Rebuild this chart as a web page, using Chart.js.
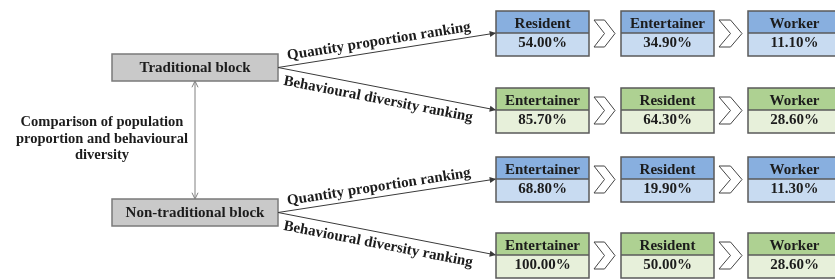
<!DOCTYPE html>
<html>
<head>
<meta charset="utf-8">
<script src="https://cdn.jsdelivr.net/npm/chart.js@4"></script>
<style>
  html, body { margin: 0; padding: 0; background: #fff; }
  #wrap { width: 835px; height: 280px; }
</style>
</head>
<body>
<div id="wrap"><canvas id="chart" width="835" height="280"></canvas></div>
<script>
// data
const blocks = ["Traditional block", "Non-traditional block"];
const rankingTypes = ["Quantity proportion ranking", "Behavioural diversity ranking"];
const comparisonLabel = ["Comparison of population", "proportion and behavioural", "diversity"];

const tradQuantityRoles = ["Resident", "Entertainer", "Worker"];
const tradQuantityValues = [54.0, 34.9, 11.1];
const tradDiversityRoles = ["Entertainer", "Resident", "Worker"];
const tradDiversityValues = [85.7, 64.3, 28.6];
const nonTradQuantityRoles = ["Entertainer", "Resident", "Worker"];
const nonTradQuantityValues = [68.8, 19.9, 11.3];
const nonTradDiversityRoles = ["Entertainer", "Resident", "Worker"];
const nonTradDiversityValues = [100.0, 50.0, 28.6];

// layout (units = px of the 835x280 sheet)
const blockCenterX = 195;
const blockCenterY = [67.5, 212.5];
const blockW = 166, blockH = 27;
const rankColX = [542.5, 667.5, 794.5];
const rankRowTop = [11, 88, 157, 233];
const boxW = 93, boxH = 45, headH = 22;

const FONT = '"Liberation Serif", "Times New Roman", serif';
const BLUE = { head: "#88afdf", body: "#c8dbf1" };
const GREEN = { head: "#aed192", body: "#e7f0da" };

const rows = [
  { block: 0, kind: 0, roles: tradQuantityRoles, values: tradQuantityValues },
  { block: 0, kind: 1, roles: tradDiversityRoles, values: tradDiversityValues },
  { block: 1, kind: 0, roles: nonTradQuantityRoles, values: nonTradQuantityValues },
  { block: 1, kind: 1, roles: nonTradDiversityRoles, values: nonTradDiversityValues },
];

const rankPoints = [];
rows.forEach((r, ri) => {
  r.roles.forEach((role, k) => {
    rankPoints.push({ x: rankColX[k], y: rankRowTop[ri] + boxH / 2, role, value: r.values[k], kind: r.kind, row: ri, rank: k });
  });
});
const blockPoints = blocks.map((b, i) => ({ x: blockCenterX, y: blockCenterY[i], name: b }));

function arrowHead(ctx, x1, y1, x2, y2, size, filled) {
  const a = Math.atan2(y2 - y1, x2 - x1);
  ctx.beginPath();
  ctx.moveTo(x2 - size * Math.cos(a - 0.45), y2 - size * Math.sin(a - 0.45));
  ctx.lineTo(x2, y2);
  ctx.lineTo(x2 - size * Math.cos(a + 0.45), y2 - size * Math.sin(a + 0.45));
  if (filled) { ctx.closePath(); ctx.fill(); } else ctx.stroke();
}

const diagramPlugin = {
  id: "diagram",
  afterDatasetsDraw(chart) {
    const ctx = chart.ctx;
    const sx = chart.scales.x, sy = chart.scales.y;
    const w = v => sx.getPixelForValue(v) - sx.getPixelForValue(0);
    const h = v => sy.getPixelForValue(v) - sy.getPixelForValue(0);
    const rankEls = chart.getDatasetMeta(0).data;
    const blockEls = chart.getDatasetMeta(1).data;
    ctx.save();

    // block boxes
    blockEls.forEach((el, i) => {
      const bw = w(blockW), bh = h(blockH);
      ctx.fillStyle = "#c9c9c9";
      ctx.fillRect(el.x - bw / 2, el.y - bh / 2, bw, bh);
      ctx.strokeStyle = "#7a7a7a";
      ctx.lineWidth = 1.5;
      ctx.strokeRect(el.x - bw / 2, el.y - bh / 2, bw, bh);
      ctx.fillStyle = "#1c1c1c";
      ctx.font = "bold 15px " + FONT;
      ctx.textAlign = "center";
      ctx.textBaseline = "alphabetic";
      ctx.fillText(blockPoints[i].name, el.x, el.y + 4.5);
    });

    // vertical double arrow between blocks
    const a = blockEls[0], b = blockEls[1];
    const yTop = a.y + h(blockH) / 2, yBot = b.y - h(blockH) / 2;
    ctx.strokeStyle = "#808080";
    ctx.lineWidth = 1;
    ctx.beginPath();
    ctx.moveTo(a.x, yTop); ctx.lineTo(a.x, yBot); ctx.stroke();
    arrowHead(ctx, a.x, yBot, a.x, yTop, 7, false);
    arrowHead(ctx, a.x, yTop, a.x, yBot, 7, false);

    // comparison label
    ctx.fillStyle = "#1c1c1c";
    ctx.font = "bold 14.5px " + FONT;
    ctx.textAlign = "center";
    comparisonLabel.forEach((t, i) => {
      ctx.fillText(t, sx.getPixelForValue(102), sy.getPixelForValue(126 + i * 16.5));
    });

    // fork lines + rotated labels
    rows.forEach((r, ri) => {
      const blk = blockEls[r.block];
      const first = rankEls[ri * 3];
      const x1 = blk.x + w(blockW) / 2, y1 = blk.y;
      const x2 = first.x - w(boxW) / 2, y2 = first.y - h(boxH) / 2 + h(headH);
      ctx.strokeStyle = "#3a3a3a";
      ctx.fillStyle = "#3a3a3a";
      ctx.lineWidth = 1;
      ctx.beginPath(); ctx.moveTo(x1, y1); ctx.lineTo(x2, y2); ctx.stroke();
      arrowHead(ctx, x1, y1, x2, y2, 7, true);

      const ang = Math.atan2(y2 - y1, x2 - x1);
      const t = 0.47;
      const mx = x1 + (x2 - x1) * t, my = y1 + (y2 - y1) * t;
      const off = r.kind === 0 ? -6 : 16;
      ctx.save();
      ctx.translate(mx - Math.sin(ang) * off, my + Math.cos(ang) * off);
      ctx.rotate(ang);
      ctx.fillStyle = "#1c1c1c";
      ctx.font = "bold 15px " + FONT;
      ctx.textAlign = "center";
      ctx.textBaseline = "alphabetic";
      ctx.fillText(rankingTypes[r.kind], 0, 0);
      ctx.restore();
    });

    // rank boxes
    rankEls.forEach((el, i) => {
      const p = rankPoints[i];
      const col = p.kind === 0 ? BLUE : GREEN;
      const bw = w(boxW), bh = h(boxH), hh = h(headH);
      const left = el.x - bw / 2, top = el.y - bh / 2;
      ctx.fillStyle = col.head;
      ctx.fillRect(left, top, bw, hh);
      ctx.fillStyle = col.body;
      ctx.fillRect(left, top + hh, bw, bh - hh);
      ctx.strokeStyle = "#5a5a5a";
      ctx.lineWidth = 1.5;
      ctx.strokeRect(left, top, bw, bh);
      ctx.beginPath(); ctx.moveTo(left, top + hh); ctx.lineTo(left + bw, top + hh); ctx.stroke();
      ctx.fillStyle = "#1c1c1c";
      ctx.font = "bold 15px " + FONT;
      ctx.textAlign = "center";
      ctx.textBaseline = "alphabetic";
      ctx.fillText(p.role, el.x, top + 17);
      ctx.fillText(p.value.toFixed(2) + "%", el.x, top + 36);

      // chevron to next box
      if (p.rank < 2) {
        const nx = rankEls[i + 1].x - bw / 2;
        const cx0 = left + bw + 5, cx1 = nx - 6;
        const cw = cx1 - cx0;
        const cy = top + bh / 2, ch = 27;
        ctx.fillStyle = "#fff";
        ctx.strokeStyle = "#444";
        ctx.lineWidth = 1;
        ctx.beginPath();
        ctx.moveTo(cx0, cy - ch / 2);
        ctx.lineTo(cx0 + cw * 0.5, cy - ch / 2);
        ctx.lineTo(cx1, cy);
        ctx.lineTo(cx0 + cw * 0.5, cy + ch / 2);
        ctx.lineTo(cx0, cy + ch / 2);
        ctx.lineTo(cx0 + cw * 0.5, cy);
        ctx.closePath();
        ctx.fill(); ctx.stroke();
      }
    });
    ctx.restore();
  }
};

new Chart(document.getElementById("chart"), {
  type: "scatter",
  data: {
    datasets: [
      { label: "ranks", data: rankPoints, pointRadius: 0, pointHoverRadius: 0 },
      { label: "blocks", data: blockPoints, pointRadius: 0, pointHoverRadius: 0 },
    ],
  },
  options: {
    responsive: false,
    animation: false,
    layout: { padding: 0 },
    plugins: { legend: { display: false }, tooltip: { enabled: false } },
    scales: {
      x: { type: "linear", display: false, min: 0, max: 835 },
      y: { type: "linear", display: false, min: 0, max: 280, reverse: true },
    },
  },
  plugins: [diagramPlugin],
});
</script>
</body>
</html>
